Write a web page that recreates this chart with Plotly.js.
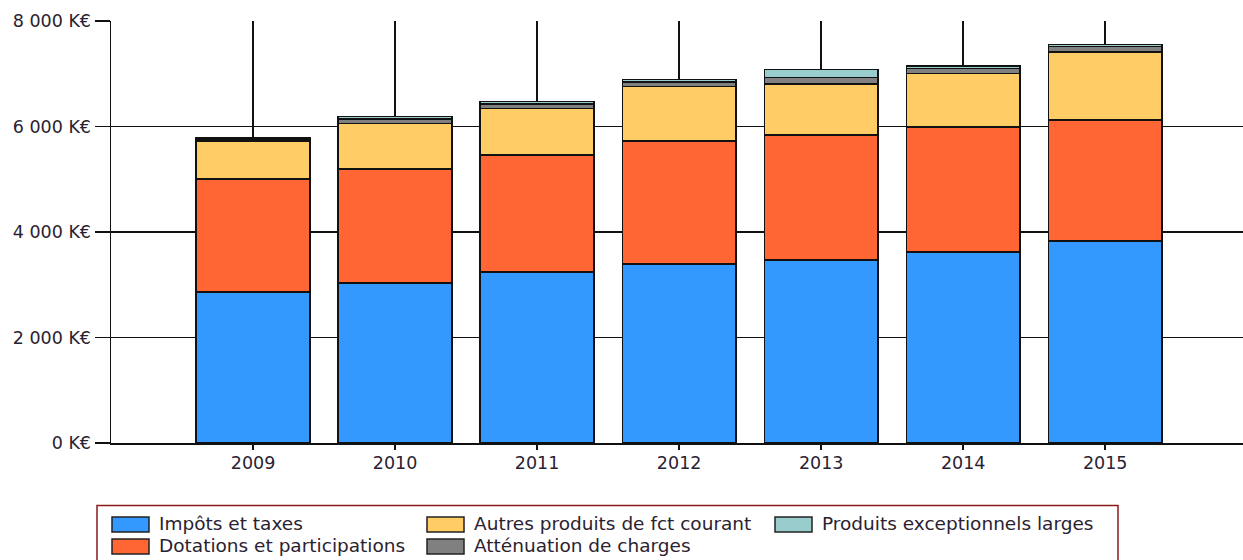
<!DOCTYPE html>
<html>
<head>
<meta charset="utf-8">
<script src="https://cdn.plot.ly/plotly-3.0.1.min.js"></script>
<style>
  html, body { margin: 0; padding: 0; background: #fff; }
  #chart { width: 1243px; height: 560px; }
</style>
</head>
<body>
<div id="chart"></div>
<script>
var years = ['2009', '2010', '2011', '2012', '2013', '2014', '2015'];

// values in K€, bottom to top of each stack
var impots = [2860, 3030, 3240, 3390, 3470, 3620, 3830];
var dotations = [2145, 2165, 2220, 2335, 2370, 2370, 2295];
var autres = [707, 859, 885, 1030, 967, 1017, 1289];
var attenuation = [30, 90, 80, 85, 120, 90, 100];
var exceptionnels = [45, 45, 50, 50, 150, 50, 40];

var yTickVals = [0, 2000, 4000, 6000, 8000];
var yTickText = ['0 K€', '2 000 K€', '4 000 K€', '6 000 K€', '8 000 K€'];

var seriesNames = ['Impôts et taxes', 'Dotations et participations', 'Autres produits de fct courant',
    'Atténuation de charges', 'Produits exceptionnels larges'];
var seriesValues = [impots, dotations, autres, attenuation, exceptionnels];
var seriesColors = ['#3399ff', '#ff6633', '#ffcc66', '#808080', '#99cccc'];

// legend layout: [column, row] of each series
var legendSlots = [[0, 0], [0, 1], [1, 0], [1, 1], [2, 0]];
var legendColX = [112, 427, 775];
var legendRowY = [524.5, 546.5];

var plotL = 111, plotT = 21, plotW = 1132, plotH = 422;
function px(x) { return (x - plotL) / plotW; }
function py(y) { return (plotT + plotH - y) / plotH; }

var font = {family: 'DejaVu Sans, Verdana, sans-serif', size: 17.5, color: '#2a2230'};

var traces = [];
for (var i = 0; i < seriesNames.length; i++) {
    traces.push({
        type: 'bar',
        name: seriesNames[i],
        x: years,
        y: seriesValues[i],
        width: 0.8,
        marker: {color: seriesColors[i], line: {color: '#111', width: 1.6}},
        hoverinfo: 'skip'
    });
}

var shapes = [{
    type: 'rect', xref: 'paper', yref: 'paper',
    x0: px(97), x1: px(1118), y0: py(600), y1: py(505.5),
    line: {color: '#8b1a1a', width: 1.5}, fillcolor: 'rgba(0,0,0,0)'
}];
var annotations = [];
for (var i = 0; i < seriesNames.length; i++) {
    var sx = legendColX[legendSlots[i][0]];
    var sy = legendRowY[legendSlots[i][1]];
    shapes.push({
        type: 'rect', xref: 'paper', yref: 'paper',
        x0: px(sx), x1: px(sx + 37), y0: py(sy + 7.5), y1: py(sy - 7.5),
        fillcolor: seriesColors[i], line: {color: '#222', width: 1.5}
    });
    annotations.push({
        xref: 'paper', yref: 'paper', x: px(sx + 45), y: py(sy - 1),
        xanchor: 'left', yanchor: 'middle', showarrow: false,
        text: seriesNames[i], font: {family: font.family, size: 18.5, color: font.color}
    });
}

var layout = {
    width: 1243,
    height: 560,
    barmode: 'stack',
    showlegend: false,
    font: font,
    paper_bgcolor: '#fff',
    plot_bgcolor: '#fff',
    margin: {l: plotL, r: 0, t: plotT, b: 560 - plotT - plotH, pad: 0},
    xaxis: {
        type: 'category',
        range: [-1, 6.97],
        showgrid: true, gridcolor: '#111', gridwidth: 1.5,
        showline: true, linecolor: '#111', linewidth: 1.5,
        ticks: 'outside', ticklen: 5, tickcolor: '#111', tickwidth: 1.5,
        ticklabelstandoff: -2,
        zeroline: false,
        tickfont: font
    },
    yaxis: {
        range: [0, 8000],
        tickmode: 'array',
        tickvals: yTickVals,
        ticktext: yTickText,
        showgrid: true, gridcolor: '#111', gridwidth: 1.5,
        showline: true, linecolor: '#111', linewidth: 1.5,
        ticks: 'outside', ticklen: 15, tickcolor: '#111', tickwidth: 1.5,
        zeroline: false,
        tickfont: font
    },
    shapes: shapes,
    annotations: annotations
};

Plotly.newPlot('chart', traces, layout, {staticPlot: true, displayModeBar: false});
</script>
</body>
</html>
